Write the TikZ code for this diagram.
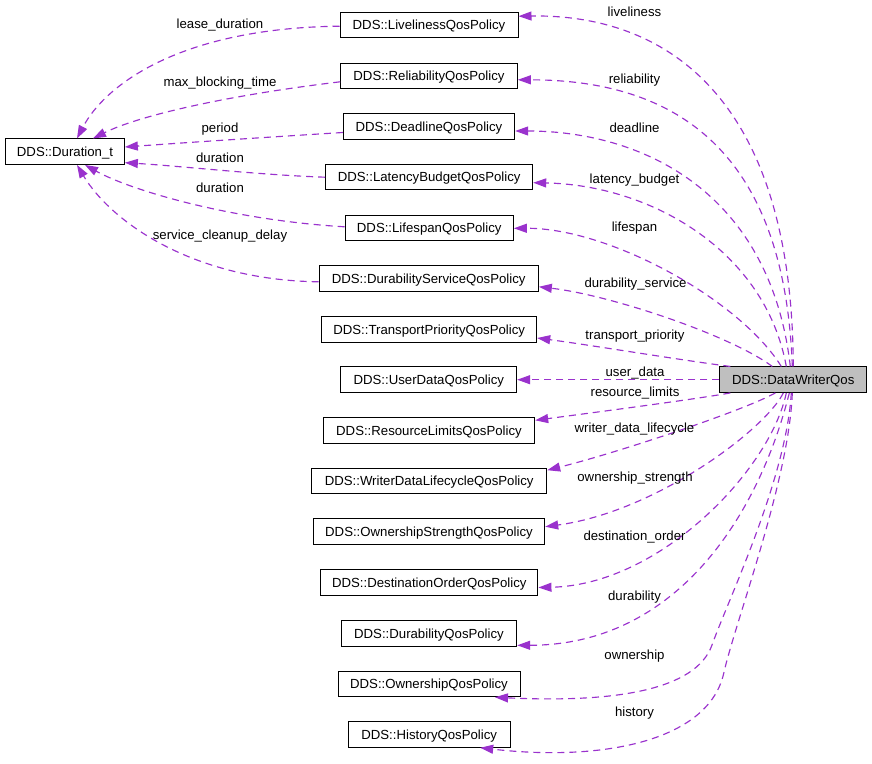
\documentclass[tikz,border=0pt]{standalone}
\usepackage{fontspec}
\setmainfont{Liberation Sans}
\usetikzlibrary{arrows.meta,calc}
\definecolor{edgec}{HTML}{9A32CD}
\definecolor{boxgray}{HTML}{BFBFBF}
\begin{document}
\begin{tikzpicture}[x=1pt,y=-1pt,
  cls/.style={draw=black, line width=1pt, minimum height=25.5pt, inner sep=0pt,
    text height=9.5pt, text depth=0pt,
    font=\fontsize{13.2}{15}\selectfont, anchor=center},
  lbl/.style={font=\fontsize{13.2}{15}\selectfont, inner sep=0pt, anchor=base},
  dep/.style={draw=edgec, line width=1.15pt, dash pattern=on 7pt off 5pt,
    -{Triangle[length=13pt,width=9pt,fill=edgec]}},
]
\useasboundingbox (0,0) rectangle (872,763);
% nodes
\node[cls, minimum width=118.7pt] (dur) at (65,151.7) {DDS::Duration\_t};
\node[cls, minimum width=178pt] (liv) at (429,25.2) {DDS::LivelinessQosPolicy};
\node[cls, minimum width=176.6pt] (rel) at (429,75.8) {DDS::ReliabilityQosPolicy};
\node[cls, minimum width=171.4pt] (dead) at (429,126.5) {DDS::DeadlineQosPolicy};
\node[cls, minimum width=207pt] (lat) at (429.2,177.2) {DDS::LatencyBudgetQosPolicy};
\node[cls, minimum width=168.3pt] (life) at (429.2,227.8) {DDS::LifespanQosPolicy};
\node[cls, minimum width=219.3pt] (dsvc) at (428.7,278.3) {DDS::DurabilityServiceQosPolicy};
\node[cls, minimum width=215pt] (tp) at (429.2,329.3) {DDS::TransportPriorityQosPolicy};
\node[cls, minimum width=175.7pt] (ud) at (428.8,379.7) {DDS::UserDataQosPolicy};
\node[cls, minimum width=211.4pt] (rl) at (429,430.3) {DDS::ResourceLimitsQosPolicy};
\node[cls, minimum width=235pt] (wdl) at (429.2,481.2) {DDS::WriterDataLifecycleQosPolicy};
\node[cls, minimum width=231.4pt] (os) at (429,531.7) {DDS::OwnershipStrengthQosPolicy};
\node[cls, minimum width=217.3pt] (dord) at (429.3,582.5) {DDS::DestinationOrderQosPolicy};
\node[cls, minimum width=175.4pt] (dura) at (429,633.3) {DDS::DurabilityQosPolicy};
\node[cls, minimum width=182pt] (own) at (429,684) {DDS::OwnershipQosPolicy};
\node[cls, minimum width=161.7pt] (hist) at (429.2,734.5) {DDS::HistoryQosPolicy};
\node[cls, fill=boxgray, minimum width=146.7pt] (dwq) at (793.3,379.7) {DDS::DataWriterQos};

% edges from DataWriterQos (upper)
\draw[dep] ($(dwq.north)+(0,0)$) .. controls (792,90) and (660,14) .. ($(liv.east)+(0,-9)$);
\draw[dep] ($(dwq.north)+(-1,0)$) .. controls (785,165) and (690,80) .. ($(rel.east)+(0,4)$);
\draw[dep] ($(dwq.north)+(-3,0)$) .. controls (770,190) and (640,131) .. ($(dead.east)+(0,4.5)$);
\draw[dep] ($(dwq.north)+(-7,0)$) .. controls (765,250) and (650,185) .. ($(lat.east)+(0,5.5)$);
\draw[dep] ($(dwq.north)+(-12,0)$) .. controls (740,300) and (610,228) .. ($(life.east)+(0,0.5)$);
\draw[dep] ($(dwq.north)+(-21,0)$) .. controls (730,335) and (610,295) .. ($(dsvc.east)+(0,8.5)$);
\draw[dep] ($(dwq.north)+(-63,0)$) .. controls (680,360) and (590,345) .. ($(tp.east)+(0,8.7)$);
\draw[dep] (dwq.west) -- (ud.east);
% edges from DataWriterQos (lower)
\draw[dep] ($(dwq.south)+(-63,0)$) .. controls (690,400) and (590,413) .. ($(rl.east)+(0,-10)$);
\draw[dep] ($(dwq.south)+(-18,0)$) .. controls (745,410) and (620,452) .. ($(wdl.east)+(0,-11)$);
\draw[dep] ($(dwq.south)+(-10,0)$) .. controls (765,430) and (655,512) .. ($(os.east)+(0,-5)$);
\draw[dep] ($(dwq.south)+(-7,0)$) .. controls (770,470) and (660,585) .. ($(dord.east)+(0,5)$);
\draw[dep] ($(dwq.south)+(-4,0)$) .. controls (760,510) and (680,645) .. ($(dura.east)+(0,12)$);
\draw[dep] ($(dwq.south)+(-2,0)$) .. controls (786,480) and (728,600) .. (712,645)
   .. controls (696,690) and (615,703) .. ($(own.south)+(66,0)$);
\draw[dep] ($(dwq.south)+(-1,0)$) .. controls (789,480) and (736,620) .. (724,672)
   .. controls (710,740) and (605,762) .. ($(hist.south)+(51,0)$);

% edges to Duration_t
\draw[dep] ($(liv.west)+(0,1)$) .. controls (180,28) and (105,85) .. ($(dur.north)+(12,0)$);
\draw[dep] ($(rel.west)+(0,6)$) .. controls (230,95) and (140,115) .. ($(dur.north)+(28,0)$);
\draw[dep] ($(dead.west)+(0,6)$) .. controls (270,137) and (180,143) .. ($(dur.east)+(0,-4.7)$);
\draw[dep] ($(lat.west)+(0,0)$) .. controls (260,175) and (180,166) .. ($(dur.east)+(0,11)$);
\draw[dep] ($(life.west)+(0,-1)$) .. controls (230,220) and (130,190) .. ($(dur.south)+(20,0)$);
\draw[dep] ($(dsvc.west)+(0,3.5)$) .. controls (190,280) and (110,220) .. ($(dur.south)+(12,0)$);

% labels right
\node[lbl] (t1) at (634.5,16.7) {liveliness};
\node[lbl] (t2) at (634.5,83.7) {reliability};
\node[lbl] (t3) at (634.5,132.7) {deadline};
\node[lbl] (t4) at (634.5,183.7) {latency\_budget};
\node[lbl] (t5) at (634.5,231.7) {lifespan};
\node[lbl] (t6) at (635.5,287.7) {durability\_service};
\node[lbl] (t7) at (635,339.2) {transport\_priority};
\node[lbl] (t8) at (635,376.5) {user\_data};
\node[lbl] (t9) at (635,396.5) {resource\_limits};
\node[lbl] (t10) at (634.5,432.5) {writer\_data\_lifecycle};
\node[lbl] (t11) at (635,481.5) {ownership\_strength};
\node[lbl] (t12) at (634.5,540.5) {destination\_order};
\node[lbl] (t13) at (634.5,600.5) {durability};
\node[lbl] (t14) at (634.5,659.5) {ownership};
\node[lbl] (t15) at (634.5,716.5) {history};
% labels left
\node[lbl] (s1) at (220,28.7) {lease\_duration};
\node[lbl] (s2) at (220,86.7) {max\_blocking\_time};
\node[lbl] (s3) at (220,132.7) {period};
\node[lbl] (s4) at (220,162.7) {duration};
\node[lbl] (s5) at (220,192.7) {duration};
\node[lbl] (s6) at (220,239.7) {service\_cleanup\_delay};
\end{tikzpicture}
\end{document}
